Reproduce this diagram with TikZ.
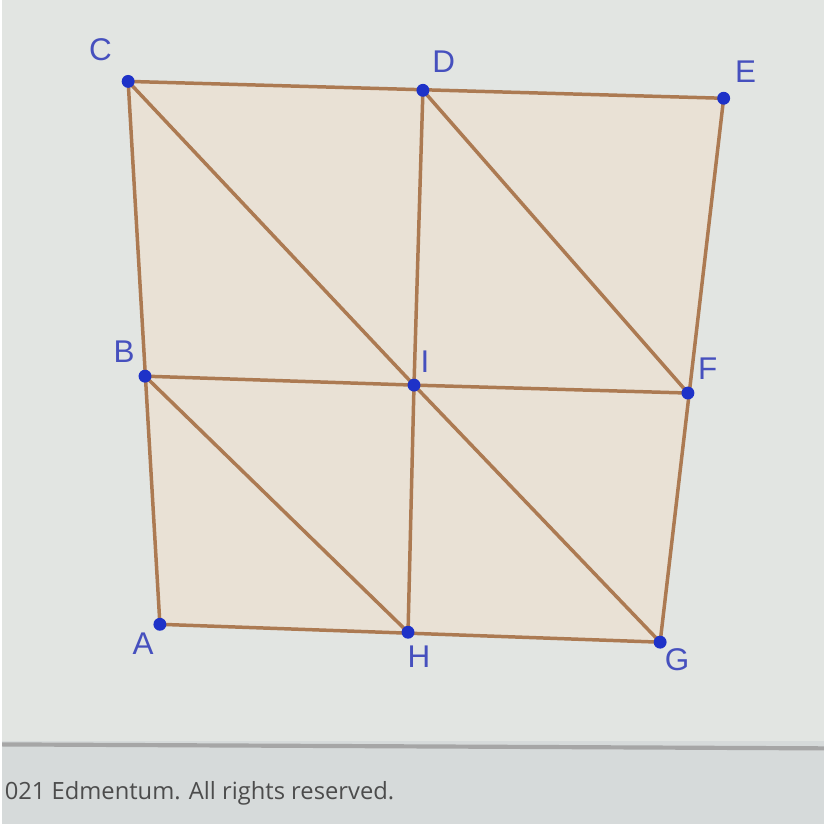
\documentclass[tikz,border=0pt]{standalone}
\usepackage{fontspec}
\setmainfont{Liberation Sans}
\newfontfamily\footfont{Open Sans}
\usetikzlibrary{positioning, calc}
\definecolor{screen}{RGB}{226,229,226}
\definecolor{screendark}{RGB}{214,218,218}
\definecolor{tan}{RGB}{233,225,213}
\definecolor{edge}{RGB}{172,122,82}
\definecolor{ptblue}{RGB}{30,50,200}
\definecolor{lblblue}{RGB}{70,80,190}
\tikzset{
  segment/.style={draw=edge,line width=1pt},
  pt/.style={circle,fill=ptblue,inner sep=0pt,minimum size=0.13cm},
  ptlabel/.style={text=lblblue,font=\fontsize{9}{10}\selectfont,inner sep=0pt},
}
\begin{document}
\begin{tikzpicture}[x=0.01cm,y=-0.01cm]
    % screen
    \fill[screen] (-2,-2) rectangle (826,828);
    \fill[screendark] (-2,745) rectangle (826,828);
    \draw[gray!70,line width=1.2pt] (-2,748) -- (826,752);
    \useasboundingbox (0,0) rectangle (824,826);
    % grid points
    \coordinate (C) at (125,80);
    \coordinate (D) at (422,89);
    \coordinate (E) at (725,97);
    \coordinate (B) at (142,377);
    \coordinate (I) at (413,386);
    \coordinate (F) at (689,394);
    \coordinate (A) at (157,627);
    \coordinate (H) at (407,635);
    \coordinate (G) at (661,645);
    % square
    \fill[tan] (C) -- (E) -- (G) -- (A) -- cycle;
    \draw[segment] (C) -- (E) -- (G) -- (A) -- cycle;
    \draw[segment] (D) -- (I) -- (H);
    \draw[segment] (B) -- (I) -- (F);
    \draw[segment] (C) -- (I) -- (G);
    \draw[segment] (D) -- (F);
    \draw[segment] (B) -- (H);
    % points
    \foreach \p in {A,B,C,D,E,F,G,H,I}
      \node[pt] (pt\p) at (\p) {};
    \node[ptlabel] (lC) at (97,48) {C};
    \node[ptlabel] (lD) at (443,60) {D};
    \node[ptlabel] (lE) at (747,70) {E};
    \node[ptlabel] (lB) at (121,352) {B};
    \node[ptlabel] (lI) at (424,362) {I};
    \node[ptlabel] (lF) at (709,369) {F};
    \node[ptlabel] (lA) at (140,647) {A};
    \node[ptlabel] (lH) at (418,660) {H};
    \node[ptlabel] (lG) at (678,663) {G};
    % footer
    \node[anchor=west,text=black!70,font=\footfont\fontsize{6.8}{8}\selectfont,inner sep=0pt] (foot) at (0,797) {021 Edmentum. All rights reserved.};
\end{tikzpicture}
\end{document}
